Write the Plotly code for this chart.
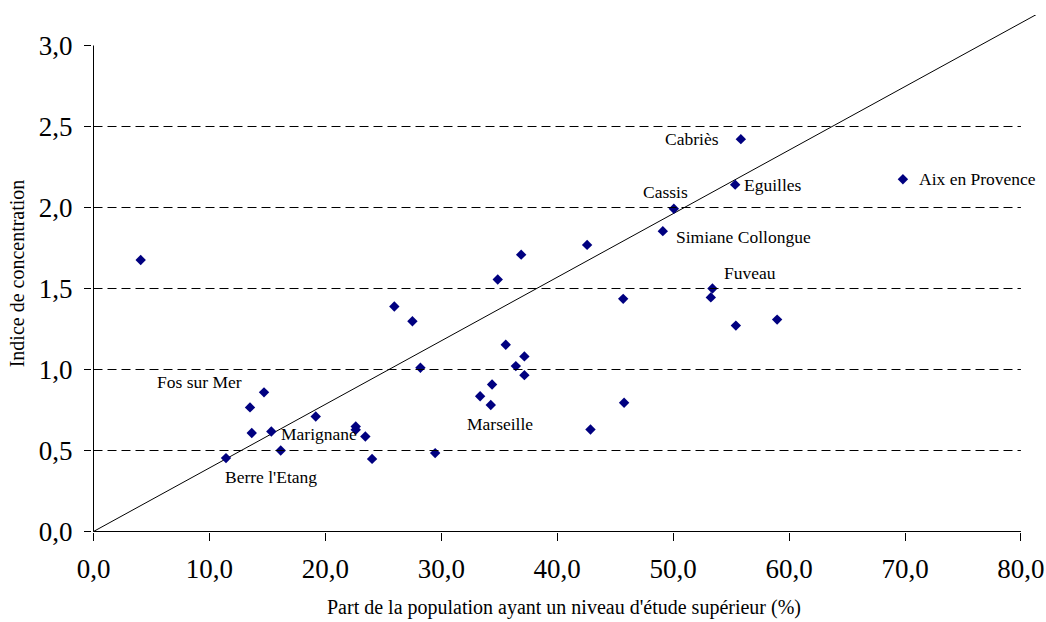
import plotly.graph_objects as go

# ---- data ----
x_vals = [4.07, 25.95, 27.51, 28.20, 14.71, 13.50, 19.17, 22.62, 22.62, 23.45,
          13.65, 15.34, 16.15, 11.43, 24.03, 29.47, 34.87, 36.89, 42.58, 49.11,
          45.69, 35.56, 37.17, 36.43, 37.17, 34.38, 33.35, 34.27, 45.77, 42.87,
          55.84, 55.35, 50.06, 53.39, 53.25, 55.41, 58.97, 69.82]
y_vals = [1.676, 1.389, 1.298, 1.011, 0.859, 0.766, 0.710, 0.648, 0.628, 0.586,
          0.608, 0.617, 0.500, 0.453, 0.448, 0.484, 1.556, 1.709, 1.769, 1.854,
          1.436, 1.153, 1.081, 1.021, 0.965, 0.907, 0.835, 0.781, 0.795, 0.630,
          2.422, 2.141, 1.992, 1.500, 1.445, 1.271, 1.308, 2.174]
names = ["", "", "", "", "Fos sur Mer", "", "", "", "", "",
         "", "Marignane", "", "Berre l'Etang", "", "", "", "", "", "Simiane Collongue",
         "", "", "", "", "", "", "", "Marseille", "", "",
         "Cabriès", "Eguilles", "Cassis", "Fuveau", "", "", "", "Aix en Provence"]

line_x = [0.0, 81.3]
line_y = [0.0, 3.19]

x_tickvals = [0, 10, 20, 30, 40, 50, 60, 70, 80]
x_ticktext = ["0,0", "10,0", "20,0", "30,0", "40,0", "50,0", "60,0", "70,0", "80,0"]
y_tickvals = [0, 0.5, 1.0, 1.5, 2.0, 2.5, 3.0]
y_ticktext = ["0,0", "0,5", "1,0", "1,5", "2,0", "2,5", "3,0"]
grid_vals = [0.5, 1.0, 1.5, 2.0, 2.5]

x_title = "Part de la population ayant un niveau d'étude supérieur (%)"
y_title = "Indice de concentration"

# ---- label placement (style) ----
label_style = {
    "Fos sur Mer": dict(xanchor="right", xshift=-20, yshift=10),
    "Marignane": dict(xanchor="left", xshift=8, yshift=-2),
    "Berre l'Etang": dict(xanchor="left", xshift=-3, yshift=-19),
    "Marseille": dict(xanchor="center", xshift=9, yshift=-19),
    "Cabriès": dict(xanchor="right", xshift=-20, yshift=0),
    "Eguilles": dict(xanchor="left", xshift=7, yshift=0),
    "Cassis": dict(xanchor="center", xshift=-8, yshift=17),
    "Simiane Collongue": dict(xanchor="left", xshift=11, yshift=-6),
    "Fuveau": dict(xanchor="left", xshift=10, yshift=16),
    "Aix en Provence": dict(xanchor="left", xshift=14, yshift=0),
}

FONT = "Liberation Serif"

fig = go.Figure()
fig.add_trace(go.Scatter(x=line_x, y=line_y, mode="lines",
                         line=dict(color="black", width=1), hoverinfo="skip",
                         showlegend=False))
fig.add_trace(go.Scatter(x=x_vals, y=y_vals, mode="markers",
                         marker=dict(symbol="diamond", size=8, color="#000080"),
                         text=names, showlegend=False, cliponaxis=False))

annotations = []
for xv, yv, nm in zip(x_vals, y_vals, names):
    if nm:
        st = label_style[nm]
        annotations.append(dict(x=xv, y=yv, xref="x", yref="y", text=nm,
                                showarrow=False, yanchor="middle",
                                font=dict(family=FONT, size=17.5, color="black"),
                                **st))

shapes = []
for g in grid_vals:
    shapes.append(dict(type="line", xref="x", yref="y", x0=0, x1=80, y0=g, y1=g,
                       line=dict(color="black", width=1, dash="9px,5px")))
shapes.append(dict(type="line", xref="x", yref="y", x0=0, x1=80, y0=0, y1=0,
                   line=dict(color="black", width=1)))
shapes.append(dict(type="line", xref="x", yref="y", x0=0, x1=0, y0=0, y1=3.0,
                   line=dict(color="black", width=1)))

fig.update_layout(
    width=1046, height=622,
    margin=dict(l=92, r=10, t=15, b=90),
    paper_bgcolor="white", plot_bgcolor="white",
    font=dict(family=FONT, color="black"),
    annotations=annotations, shapes=shapes,
    xaxis=dict(range=[-0.129, 81.30], tickvals=x_tickvals, ticktext=x_ticktext,
               ticks="outside", ticklen=8, tickcolor="black", tickwidth=1,
               showgrid=False, zeroline=False, showline=False, automargin=False,
               tickfont=dict(family=FONT, size=27, color="black"),
               ticklabelstandoff=5,
               title=dict(text=x_title, font=dict(family=FONT, size=20, color="black"),
                          standoff=16)),
    yaxis=dict(range=[-0.00309, 3.18827], tickvals=y_tickvals, ticktext=y_ticktext,
               ticks="outside", ticklen=7, tickcolor="black", tickwidth=1,
               showgrid=False, zeroline=False, showline=False, automargin=False,
               tickfont=dict(family=FONT, size=27, color="black"),
               ticklabelstandoff=6,
               title=dict(text=y_title, font=dict(family=FONT, size=20, color="black"),
                          standoff=8)),
)

fig.write_html("out.html", config={"displayModeBar": False},
               post_script="document.body.style.margin='0';document.body.style.padding='0';")
